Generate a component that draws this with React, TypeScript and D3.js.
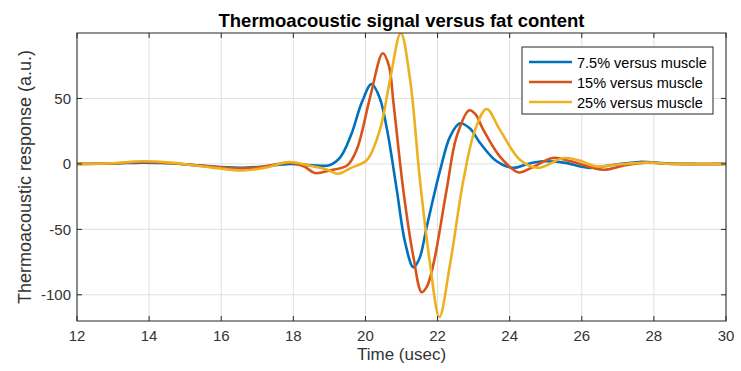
import * as d3 from "d3";

// Thermoacoustic response (a.u.) versus time (usec)
const blueSeries: [number, number][] = [
  [12, 0], [13, 0.3], [13.8, 1], [14.6, 0.5], [15.5, -1.5], [16.5, -3], [17.2, -2],
  [17.9, 0], [18.5, -1], [19.0, -1], [19.3, 5], [19.6, 22], [19.9, 47], [20.17, 61],
  [20.4, 50], [20.6, 26], [20.87, -20], [21.1, -60], [21.33, -79], [21.5, -72],
  [21.7, -48], [22.07, -5], [22.35, 21], [22.62, 31], [22.9, 27], [23.18, 16],
  [23.64, 2], [24.1, -3], [24.5, 0], [24.93, 2], [25.5, 1], [26.2, -3], [26.8, -1],
  [27.6, 1.5], [28.3, 0.5], [29, 0], [30, 0],
];

const redSeries: [number, number][] = [
  [12, 0], [13, 0.3], [13.8, 1.5], [14.6, 0.5], [15.5, -1.5], [16.5, -3.5], [17.2, -2],
  [17.9, 1], [18.3, -2], [18.6, -7], [19.0, -5], [19.5, -1], [19.76, 11], [20.13, 51],
  [20.48, 84.5], [20.65, 75], [20.78, 46], [21.05, -20], [21.33, -71], [21.56, -98],
  [21.7, -94], [21.89, -76], [22.25, -20], [22.53, 21], [22.88, 41], [23.05, 38],
  [23.27, 26], [23.73, 5.6], [24.25, -6.5], [24.6, -3], [25.2, 4.5], [25.7, 2],
  [26.6, -4.5], [27.2, -1], [27.8, 1], [28.5, 0], [30, 0],
];

const yellowSeries: [number, number][] = [
  [12, 0], [13, 0.5], [13.8, 2], [14.6, 1], [15.5, -2], [16.6, -5], [17.2, -3],
  [17.9, 1.5], [18.4, -1], [18.9, -4], [19.25, -7.5], [19.6, -3], [20.04, 3],
  [20.4, 26], [20.68, 64], [20.98, 100], [21.24, 64], [21.51, -12], [21.79, -76],
  [22.05, -117], [22.35, -76], [22.72, -12], [23.04, 26], [23.36, 42], [23.73, 26],
  [24.29, 3], [24.8, -3], [25.5, 4.5], [26.0, 2], [26.4, -2], [27, -0.5], [27.8, 1],
  [28.5, 0], [30, 0],
];

const legendLabels = ["7.5% versus muscle", "15% versus muscle", "25% versus muscle"];
const seriesColors = ["#0072BD", "#D95319", "#EDB120"];
const xTicks = [12, 14, 16, 18, 20, 22, 24, 26, 28, 30];
const yTicks = [-100, -50, 0, 50];

export default function App() {
  const width = 741;
  const height = 371;
  const margin = { top: 33, right: 15, bottom: 50, left: 77 };
  const x0 = margin.left;
  const x1 = width - margin.right;
  const y0 = margin.top;
  const y1 = height - margin.bottom;

  const xScale = d3.scaleLinear().domain([12, 30]).range([x0, x1]);
  const yScale = d3.scaleLinear().domain([-120, 100]).range([y1, y0]);

  const line = d3
    .line<[number, number]>()
    .x((d) => xScale(d[0]))
    .y((d) => yScale(d[1]))
    .curve(d3.curveCatmullRom.alpha(0.5));

  const allSeries = [blueSeries, redSeries, yellowSeries];
  const font = "'Liberation Sans', Arial, sans-serif";
  const axisColor = "#262626";
  const textColor = "#333";
  const tickLen = 5;

  const legend = { x: 522, y: 47, w: 191, h: 67 };

  return (
    <div style={{ position: "fixed", left: 0, top: 0 }}>
      <svg width={width} height={height} style={{ display: "block", background: "#fff" }}>
        <defs>
          <clipPath id="plotClip">
            <rect x={x0} y={y0} width={x1 - x0} height={y1 - y0} />
          </clipPath>
        </defs>

        {/* grid */}
        <g stroke="#dfdfdf" strokeWidth={1}>
          {xTicks.map((t) => (
            <line key={"gx" + t} x1={xScale(t)} x2={xScale(t)} y1={y0} y2={y1} />
          ))}
          {yTicks.map((t) => (
            <line key={"gy" + t} x1={x0} x2={x1} y1={yScale(t)} y2={yScale(t)} />
          ))}
        </g>

        {/* curves */}
        <g clipPath="url(#plotClip)" fill="none" strokeWidth={2.6} strokeLinejoin="round">
          {allSeries.map((s, i) => (
            <path key={i} d={line(s) || ""} stroke={seriesColors[i]} />
          ))}
        </g>

        {/* box and ticks */}
        <g stroke={axisColor} strokeWidth={1} fill="none">
          <rect x={x0} y={y0} width={x1 - x0} height={y1 - y0} />
          {xTicks.map((t) => (
            <g key={"tx" + t}>
              <line x1={xScale(t)} x2={xScale(t)} y1={y1} y2={y1 - tickLen} />
              <line x1={xScale(t)} x2={xScale(t)} y1={y0} y2={y0 + tickLen} />
            </g>
          ))}
          {yTicks.map((t) => (
            <g key={"ty" + t}>
              <line x1={x0} x2={x0 + tickLen} y1={yScale(t)} y2={yScale(t)} />
              <line x1={x1} x2={x1 - tickLen} y1={yScale(t)} y2={yScale(t)} />
            </g>
          ))}
        </g>

        {/* tick labels */}
        <g fontFamily={font} fontSize={15} fill={textColor}>
          {xTicks.map((t) => (
            <text key={"lx" + t} x={xScale(t)} y={y1 + 20} textAnchor="middle">
              {t}
            </text>
          ))}
          {yTicks.map((t) => (
            <text key={"ly" + t} x={x0 - 6} y={yScale(t) + 5.5} textAnchor="end">
              {t}
            </text>
          ))}
        </g>

        {/* axis labels and title */}
        <text
          x={(x0 + x1) / 2}
          y={height - 11}
          textAnchor="middle"
          fontFamily={font}
          fontSize={17}
          fill={textColor}
        >
          Time (usec)
        </text>
        <text
          transform={`translate(31,${(y0 + y1) / 2}) rotate(-90)`}
          textAnchor="middle"
          fontFamily={font}
          fontSize={18}
          fill={textColor}
        >
          Thermoacoustic response (a.u.)
        </text>
        <text
          x={(x0 + x1) / 2}
          y={27}
          textAnchor="middle"
          fontFamily={font}
          fontSize={18.5}
          fontWeight="bold"
          fill="#000"
        >
          Thermoacoustic signal versus fat content
        </text>

        {/* legend */}
        <g>
          <rect
            x={legend.x}
            y={legend.y}
            width={legend.w}
            height={legend.h}
            fill="#fff"
            stroke={axisColor}
            strokeWidth={1}
          />
          {legendLabels.map((lab, i) => {
            const ly = legend.y + 15 + i * 20;
            return (
              <g key={lab}>
                <line
                  x1={legend.x + 7}
                  x2={legend.x + 50}
                  y1={ly}
                  y2={ly}
                  stroke={seriesColors[i]}
                  strokeWidth={2.6}
                />
                <text
                  x={legend.x + 55}
                  y={ly + 5.5}
                  fontFamily={font}
                  fontSize={14.5}
                  fill="#000"
                >
                  {lab}
                </text>
              </g>
            );
          })}
        </g>
      </svg>
    </div>
  );
}
